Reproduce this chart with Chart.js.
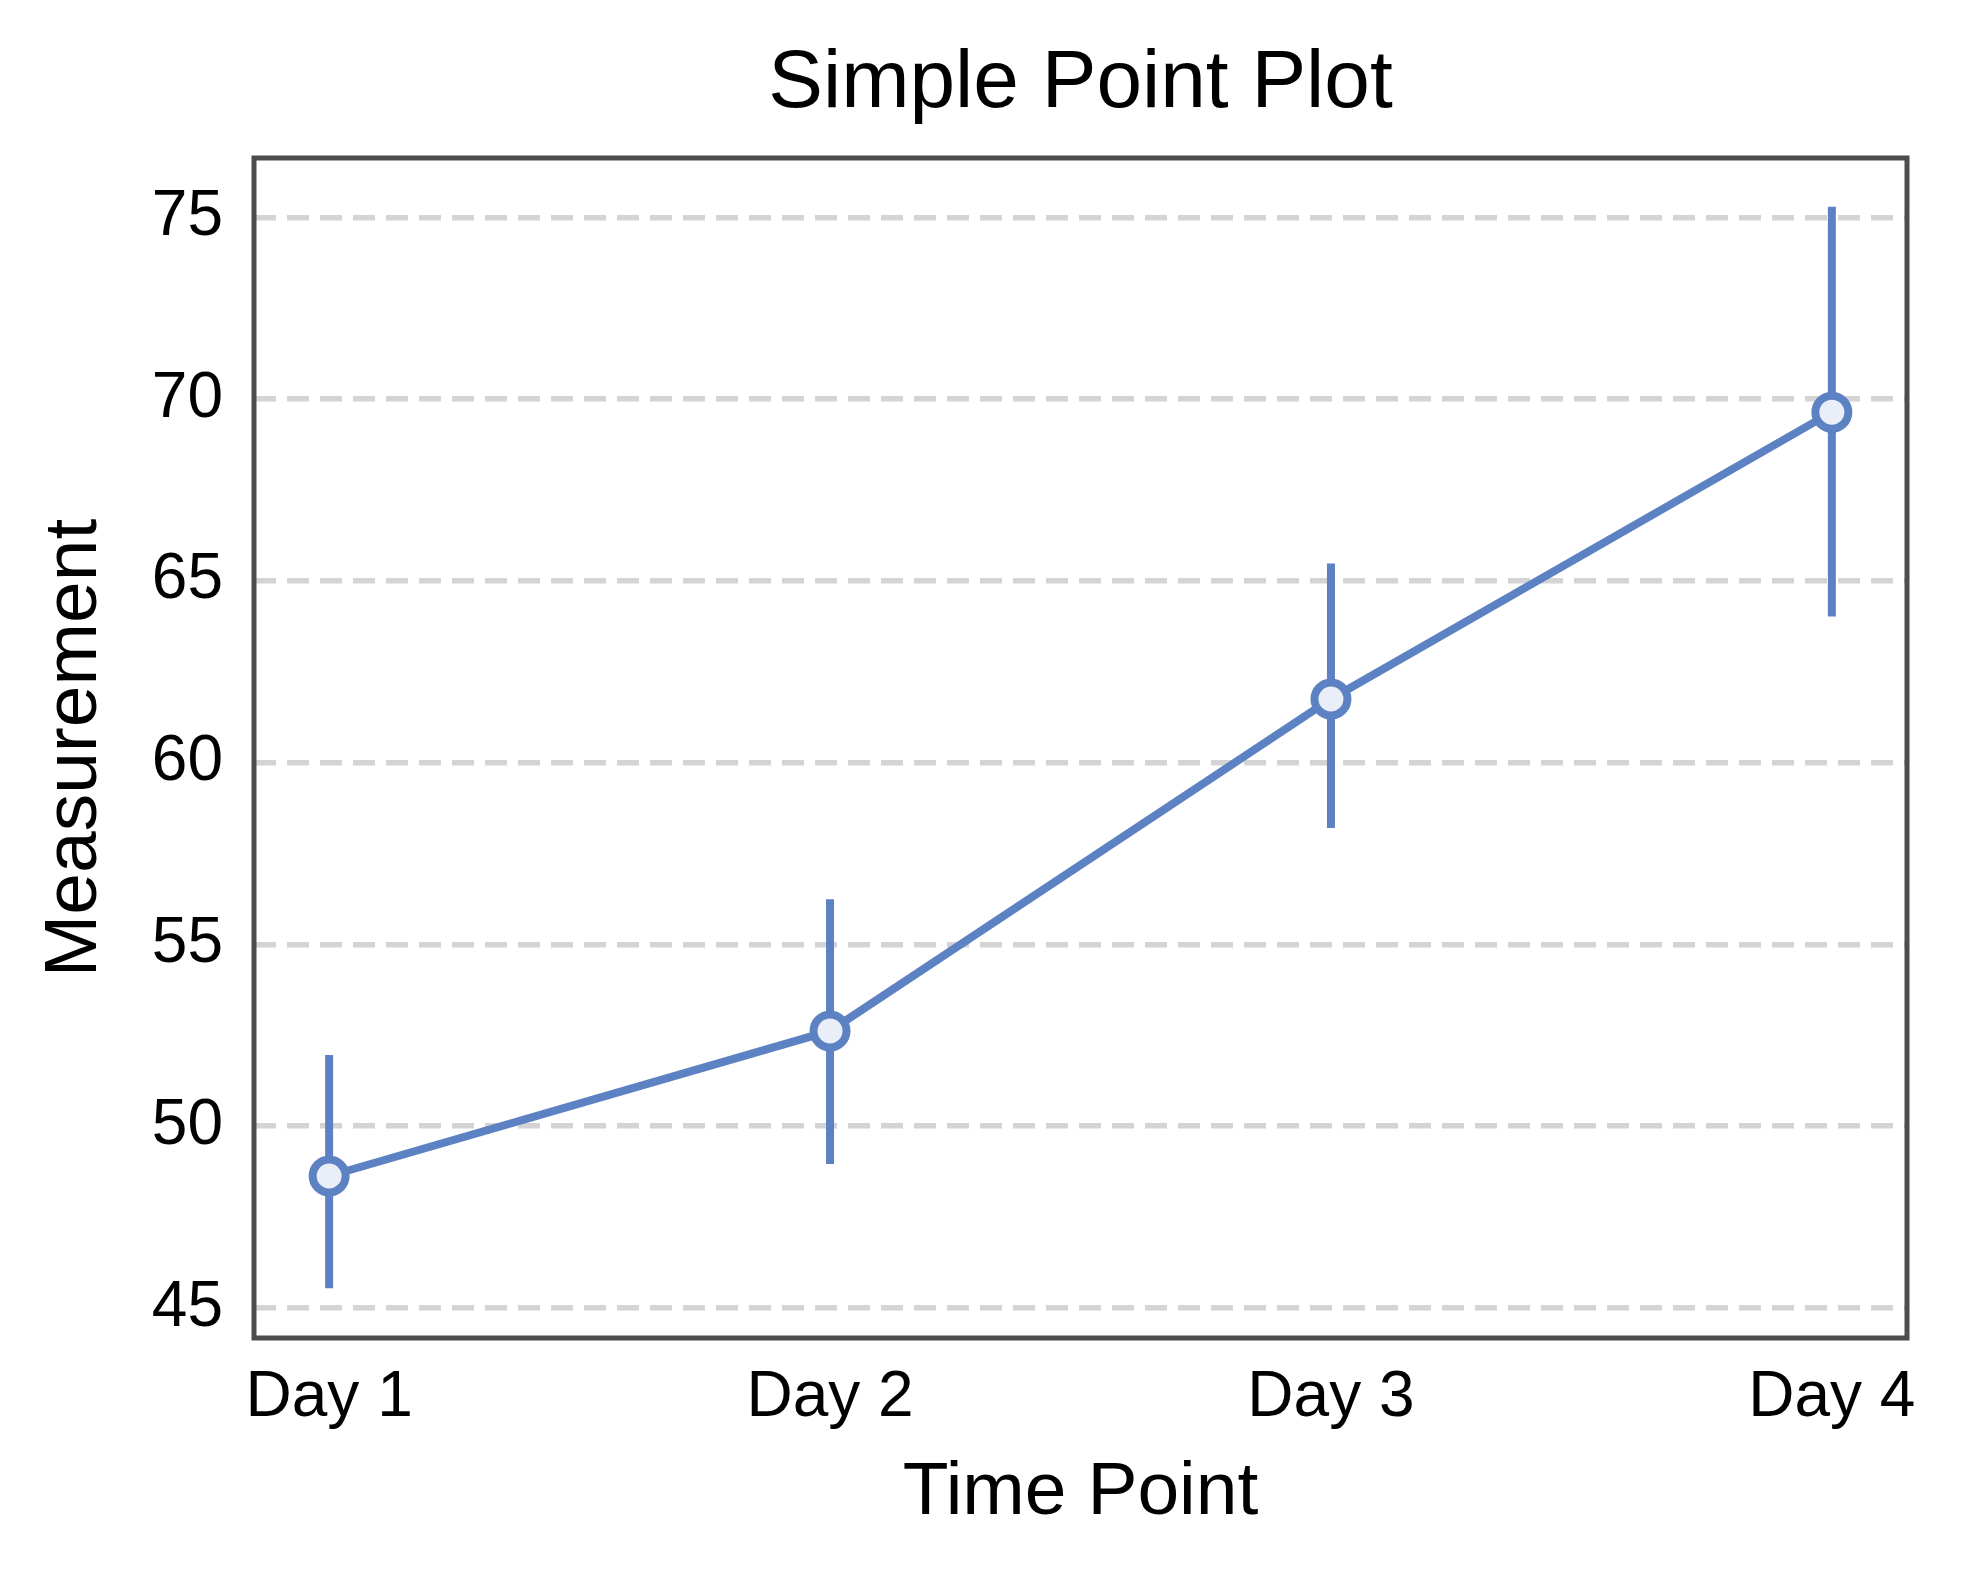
<!DOCTYPE html>
<html>
<head>
<meta charset="utf-8">
<script src="https://cdn.jsdelivr.net/npm/chart.js@4.4.1/dist/chart.umd.min.js"></script>
<style>
  html, body { margin: 0; padding: 0; background: #ffffff; }
  #wrap { width: 1967px; height: 1583px; position: relative; }
</style>
</head>
<body>
<div id="wrap"><canvas id="c" width="1967" height="1583"></canvas></div>
<script>
// ---- data ----
const categories = ["Day 1", "Day 2", "Day 3", "Day 4"];
const meanValues = [48.63, 52.62, 61.75, 69.64];
const errLow = [45.54, 48.96, 58.2, 64.02];
const errHigh = [51.96, 56.24, 65.48, 75.29];
const yTicks = [45, 50, 55, 60, 65, 70, 75];
const titleText = "Simple Point Plot";
const xTitle = "Time Point";
const yTitle = "Measurement";

// ---- styling ----
const FONT = "'Liberation Sans', Arial, sans-serif";
const BLUE = "#5c82c3";
const FILL = "#eaeef8";
const FRAME = "#4d4d4d";
const GRID = "#d4d4d4";

const errorBars = {
  id: "errorBars",
  beforeDatasetsDraw(chart) {
    const ctx = chart.ctx;
    const xs = chart.scales.x, ys = chart.scales.y;
    ctx.save();
    ctx.strokeStyle = BLUE;
    ctx.lineWidth = 8;
    ctx.lineCap = "butt";
    categories.forEach((c, i) => {
      const x = xs.getPixelForValue(i);
      ctx.beginPath();
      ctx.moveTo(x, ys.getPixelForValue(errLow[i]));
      ctx.lineTo(x, ys.getPixelForValue(errHigh[i]));
      ctx.stroke();
    });
    ctx.restore();
  }
};

const frameAndTitle = {
  id: "frameAndTitle",
  afterDatasetsDraw(chart) {
    const a = chart.chartArea, ctx = chart.ctx;
    ctx.save();
    ctx.strokeStyle = FRAME;
    ctx.lineWidth = 5;
    ctx.strokeRect(a.left, a.top, a.right - a.left, a.bottom - a.top);
    ctx.restore();
  },
  afterDraw(chart) {
    const a = chart.chartArea, ctx = chart.ctx;
    ctx.save();
    ctx.fillStyle = "#000000";
    ctx.font = "82px " + FONT;
    ctx.textAlign = "center";
    ctx.textBaseline = "middle";
    ctx.fillText(titleText, (a.left + a.right) / 2, 84);
    ctx.restore();
  }
};

new Chart(document.getElementById("c"), {
  type: "line",
  data: {
    datasets: [{
      data: meanValues.map((v, i) => ({ x: i, y: v })),
      borderColor: BLUE,
      borderWidth: 8,
      backgroundColor: FILL,
      pointBackgroundColor: FILL,
      pointBorderColor: BLUE,
      pointBorderWidth: 8,
      pointRadius: 16.5,
      pointHoverRadius: 16.5,
      tension: 0,
      fill: false,
      clip: false
    }]
  },
  options: {
    responsive: false,
    animation: false,
    events: [],
    layout: { padding: { left: 0, right: 60, top: 158, bottom: 0 } },
    plugins: {
      legend: { display: false },
      tooltip: { enabled: false },
      title: { display: false }
    },
    scales: {
      x: {
        type: "linear",
        min: -0.15,
        max: 3.15,
        afterBuildTicks(s) { s.ticks = categories.map((c, i) => ({ value: i })); },
        afterFit(s) { s.height = 245; },
        grid: { display: false, drawTicks: false },
        border: { display: false },
        ticks: {
          color: "#000000",
          font: { family: FONT, size: 64 },
          padding: 22,
          maxRotation: 0,
          autoSkip: false,
          callback: (v) => categories[v]
        },
        title: {
          display: true,
          text: xTitle,
          color: "#000000",
          font: { family: FONT, size: 75 },
          padding: { top: 0, bottom: 45 }
        }
      },
      y: {
        type: "linear",
        min: 44.175,
        max: 76.63,
        afterBuildTicks(s) { s.ticks = yTicks.map(v => ({ value: v })); },
        afterFit(s) { s.width = 254; },
        grid: { display: true, color: GRID, lineWidth: 5.5, drawTicks: false },
        border: { display: false, dash: [22, 11] },
        ticks: {
          color: "#000000",
          font: { family: FONT, size: 64 },
          padding: 31,
          autoSkip: false,
          callback: (v) => String(v)
        },
        title: {
          display: true,
          text: yTitle,
          color: "#000000",
          font: { family: FONT, size: 75 },
          padding: { top: 30, bottom: 0 }
        }
      }
    }
  },
  plugins: [errorBars, frameAndTitle]
});
</script>
</body>
</html>
